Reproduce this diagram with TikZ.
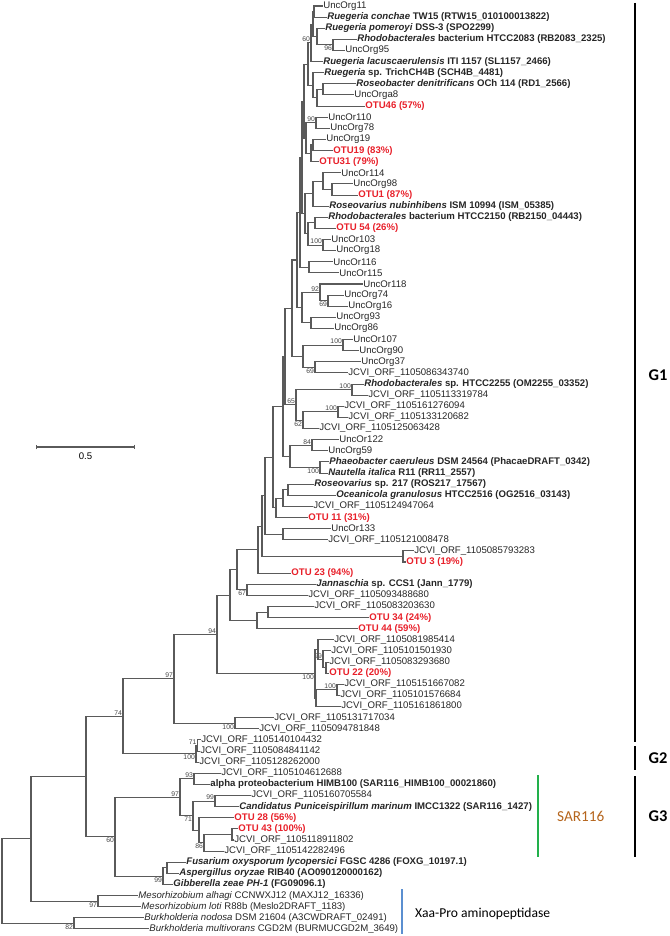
\documentclass[tikz,border=0pt]{standalone}
\usepackage{fontspec}
\setmainfont{Liberation Sans}
\newfontfamily\grpfont{Carlito}
\usetikzlibrary{arrows.meta,calc}
\definecolor{TreeGray}{HTML}{5A5A5A}
\definecolor{OtuRed}{HTML}{E8202A}
\definecolor{BootGray}{HTML}{444444}
\definecolor{SarGreen}{HTML}{22B04B}
\definecolor{SarBrown}{HTML}{B5651D}
\definecolor{XaaBlue}{HTML}{5B8FD0}
% leaf i sits at y = 6 + (i-1)*11.12 px
\newcommand{\taxon}[4][]{\node[leaf,#1] (L#2) at (#3,{6+(#2-1)*11.12}) {#4};}
% internal node: [bootstrap]{name}{x}{first child}{last child}
\newcommand{\clade}[5][]{%
  \path ($(#4)!.5!(#5)$) coordinate (mid);
  \coordinate[#1] (#2) at (#3,0 |- mid);
  \draw[branch] (#2) |- (#4);
  \draw[branch] (#2) |- (#5);
}

\begin{document}
\begin{tikzpicture}[
  x=0.03cm, y=-0.03cm,
  leaf/.style={anchor=west, inner sep=1pt, text=black!85, font=\fontsize{8.2}{9}\selectfont},
  named/.style={font=\fontsize{8.2}{9}\selectfont\bfseries},
  otu/.style={named, text=OtuRed},
  branch/.style={draw=TreeGray, line width=0.9pt, line cap=rect},
  boot/.style={font=\fontsize{5.8}{6.5}\selectfont, text=BootGray, inner sep=0.8pt},
  bsa/.style={label={[boot]above left:#1}},
  bsb/.style={label={[boot]below left:#1}},
  grpbar/.style={line width=1.6pt},
  grplabel/.style={font=\grpfont\fontsize{14}{16}\selectfont\bfseries}
]
\useasboundingbox (0,0) rectangle (669,936);

% leaves, top to bottom
\taxon{1}{322}{UncOrg11}
\taxon[named]{2}{326}{\textit{Ruegeria conchae} TW15 (RTW15\_010100013822)}
\taxon[named]{3}{324}{\textit{Ruegeria pomeroyi} DSS-3 (SPO2299)}
\taxon[named]{4}{356}{\textit{Rhodobacterales} bacterium HTCC2083 (RB2083\_2325)}
\taxon{5}{344}{UncOrg95}
\taxon[named]{6}{322}{\textit{Ruegeria lacuscaerulensis} ITI 1157 (SL1157\_2466)}
\taxon[named]{7}{323}{\textit{Ruegeria} sp. TrichCH4B (SCH4B\_4481)}
\taxon[named]{8}{355}{\textit{Roseobacter denitrificans} OCh 114 (RD1\_2566)}
\taxon{9}{353}{UncOrga8}
\taxon[otu]{10}{364}{OTU46 (57\%)}
\taxon{11}{327}{UncOr110}
\taxon{12}{329}{UncOrg78}
\taxon{13}{325}{UncOrg19}
\taxon[otu]{14}{332}{OTU19 (83\%)}
\taxon[otu]{15}{318}{OTU31 (79\%)}
\taxon{16}{340}{UncOr114}
\taxon{17}{352}{UncOrg98}
\taxon[otu]{18}{357}{OTU1 (87\%)}
\taxon[named]{19}{328}{\textit{Roseovarius nubinhibens} ISM 10994 (ISM\_05385)}
\taxon[named]{20}{327}{\textit{Rhodobacterales} bacterium HTCC2150 (RB2150\_04443)}
\taxon[otu]{21}{335}{OTU 54 (26\%)}
\taxon{22}{330}{UncOr103}
\taxon{23}{335}{UncOrg18}
\taxon{24}{332}{UncOr116}
\taxon{25}{338}{UncOr115}
\taxon{26}{362}{UncOr118}
\taxon{27}{343}{UncOrg74}
\taxon{28}{347}{UncOrg16}
\taxon{29}{335}{UncOrg93}
\taxon{30}{333}{UncOrg86}
\taxon{31}{352}{UncOr107}
\taxon{32}{358}{UncOrg90}
\taxon{33}{360}{UncOrg37}
\taxon{34}{347}{JCVI\_ORF\_1105086343740}
\taxon[named]{35}{363}{\textit{Rhodobacterales} sp. HTCC2255 (OM2255\_03352)}
\taxon{36}{367}{JCVI\_ORF\_1105113319784}
\taxon{37}{343}{JCVI\_ORF\_1105161276094}
\taxon{38}{347}{JCVI\_ORF\_1105133120682}
\taxon{39}{318}{JCVI\_ORF\_1105125063428}
\taxon{40}{338}{UncOr122}
\taxon{41}{327}{UncOrg59}
\taxon[named]{42}{328}{\textit{Phaeobacter caeruleus} DSM 24564 (PhacaeDRAFT\_0342)}
\taxon[named]{43}{327}{\textit{Nautella italica} R11 (RR11\_2557)}
\taxon[named]{44}{313}{\textit{Roseovarius} sp. 217 (ROS217\_17567)}
\taxon[named]{45}{335}{\textit{Oceanicola granulosus} HTCC2516 (OG2516\_03143)}
\taxon{46}{312}{JCVI\_ORF\_1105124947064}
\taxon[otu]{47}{307}{OTU 11 (31\%)}
\taxon{48}{330}{UncOr133}
\taxon{49}{327}{JCVI\_ORF\_1105121008478}
\taxon{50}{413}{JCVI\_ORF\_1105085793283}
\taxon[otu]{51}{405}{OTU 3 (19\%)}
\taxon[otu]{52}{290}{OTU 23 (94\%)}
\taxon[named]{53}{315}{\textit{Jannaschia} sp. CCS1 (Jann\_1779)}
\taxon{54}{307}{JCVI\_ORF\_1105093488680}
\taxon{55}{313}{JCVI\_ORF\_1105083203630}
\taxon[otu]{56}{368}{OTU 34 (24\%)}
\taxon[otu]{57}{357}{OTU 44 (59\%)}
\taxon{58}{333}{JCVI\_ORF\_1105081985414}
\taxon{59}{330}{JCVI\_ORF\_1105101501930}
\taxon{60}{328}{JCVI\_ORF\_1105083293680}
\taxon[otu]{61}{328}{OTU 22 (20\%)}
\taxon{62}{343}{JCVI\_ORF\_1105151667082}
\taxon{63}{339}{JCVI\_ORF\_1105101576684}
\taxon{64}{340}{JCVI\_ORF\_1105161861800}
\taxon{65}{273}{JCVI\_ORF\_1105131717034}
\taxon{66}{258}{JCVI\_ORF\_1105094781848}
\taxon{67}{200}{JCVI\_ORF\_1105140104432}
\taxon{68}{199}{JCVI\_ORF\_1105084841142}
\taxon{69}{198}{JCVI\_ORF\_1105128262000}
\taxon{70}{220}{JCVI\_ORF\_1105104612688}
\taxon[named]{71}{209}{alpha proteobacterium HIMB100 (SAR116\_HIMB100\_00021860)}
\taxon{72}{250}{JCVI\_ORF\_1105160705584}
\taxon[named]{73}{238}{\textit{Candidatus Puniceispirillum marinum} IMCC1322 (SAR116\_1427)}
\taxon[otu]{74}{233}{OTU 28 (56\%)}
\taxon[otu]{75}{237}{OTU 43 (100\%)}
\taxon{76}{233}{JCVI\_ORF\_1105118911802}
\taxon{77}{223}{JCVI\_ORF\_1105142282496}
\taxon[named]{78}{185}{\textit{Fusarium oxysporum lycopersici} FGSC 4286 (FOXG\_10197.1)}
\taxon[named]{79}{178}{\textit{Aspergillus oryzae} RIB40 (AO090120000162)}
\taxon[named]{80}{172}{\textit{Gibberella zeae PH-1} (FG09096.1)}
\taxon{81}{137}{\textit{Mesorhizobium alhagi} CCNWXJ12 (MAXJ12\_16336)}
\taxon{82}{140}{\textit{Mesorhizobium loti} R88b (Meslo2DRAFT\_1183)}
\taxon{83}{143}{\textit{Burkholderia nodosa} DSM 21604 (A3CWDRAFT\_02491)}
\taxon{84}{148}{\textit{Burkholderia multivorans} CGD2M (BURMUCGD2M\_3649)}

% Ruegeria group
\clade{nc}{314}{L1}{L2}
\clade[bsb=96]{ne}{333}{L4}{L5}
\clade{nd}{317}{L3}{ne}
\clade{nb}{313}{nc}{nd}
\clade[bsa=60]{n60a}{311}{nb}{L6}
\clade{nh}{323}{L8}{L9}
\clade{ng}{317}{nh}{L10}
\clade{nf}{313}{L7}{ng}
\clade{ni}{308}{n60a}{nf}
% UncOr110 .. OTU31
\clade[bsa=90]{n90}{316}{L11}{L12}
\clade{nk}{313}{L13}{L14}
\clade{nj}{311}{nk}{L15}
\clade{nl}{306}{n90}{nj}
\clade{nm0}{304}{ni}{nl}
% UncOr114 .. UncOrg18
\clade{nh2}{332}{L17}{L18}
\clade{ni2}{323}{L16}{nh2}
\clade{nj2}{313}{ni2}{L19}
\clade{nf2}{315}{L20}{L21}
\clade[bsa=100]{n100a}{323}{L22}{L23}
\clade{ng2}{308}{nf2}{n100a}
\clade{nk2}{305}{nj2}{ng2}
\clade{nup4}{302}{nm0}{nk2}
\clade{nm}{309}{L24}{L25}
\clade{nup3}{300}{nup4}{nm}
\clade[bsb=69]{n69a}{328}{L27}{L28}
\clade[bsa=92]{n92}{320}{L26}{n69a}
\clade{nn}{311}{L29}{L30}
\clade{no}{302}{n92}{nn}
\clade{nup2}{297}{nup3}{no}
\clade[bsa=100]{n100b}{343}{L31}{L32}
\clade[bsb=69]{n69b}{315}{L33}{L34}
\clade{nq}{303}{n100b}{n69b}
\clade{nup1}{292}{nup2}{nq}
% HTCC2255 .. Nautella
\clade[bsa=100]{n100f}{352}{L35}{L36}
\clade[bsa=100]{n100g}{338}{L37}{L38}
\clade[bsb=62]{n62}{303}{n100g}{L39}
\clade[bsa=65]{n65}{296}{n100f}{n62}
\clade{nA5}{285}{nup1}{n65}
\clade[bsa=84]{n84}{312}{L40}{L41}
\clade[bsb=100]{n100c}{320}{L42}{L43}
\clade{nph}{290}{n84}{n100c}
\clade{nA4}{283}{nA5}{nph}
% Roseovarius sp. .. OTU 44
\clade{nO1}{288}{L44}{L45}
\clade{nP}{283}{nO1}{L46}
\clade{nR}{276}{nP}{L47}
\clade{nA3}{273}{nA4}{nR}
\clade{nu}{283}{L48}{L49}
\clade{nA2}{265}{nA3}{nu}
\clade{n3}{403}{L50}{L51}
\clade{nA1}{262}{nA2}{n3}
\clade{nW}{258}{nA1}{L52}
\clade[bsb=67]{n67}{247}{L53}{L54}
\clade{nU}{237}{nW}{n67}
\clade{n34}{268}{L55}{L56}
\clade{nX}{257}{n34}{L57}
\clade{nY}{230}{nU}{nX}
% OTU 22 group
\clade{na}{326}{L60}{L61}
\clade[bsa=99]{n99}{323}{L59}{na}
\clade{nb2}{318}{L58}{n99}
\clade[bsa=100]{n100e}{337}{L62}{L63}
\clade{nc2}{316}{n100e}{L64}
\clade[bsb=100]{nV}{315}{nb2}{nc2}
\clade[bsa=94]{n94}{217}{nY}{nV}
\clade[bsb=100]{n100d}{235}{L65}{L66}
\clade[bsa=97]{n97}{174}{n94}{n100d}
% G2
\clade[bsa=71]{n71a}{197.5}{L67}{L68}
\clade[bsb=100]{nG2}{196}{n71a}{L69}
\clade[bsa=74]{n74}{123}{n97}{nG2}
% G3 / SAR116
\clade[bsa=93]{n93}{194}{L70}{L71}
\clade[bsa=99]{n99b}{215}{L72}{L73}
\clade{nZ}{232}{L75}{L76}
\clade[bsb=86]{n86b}{204}{nZ}{L77}
\clade{nW2}{199}{L74}{n86b}
\clade[bsb=71]{nS}{193}{n99b}{nW2}
\clade[bsa=97]{n97b}{180}{n93}{nS}
% fungi and outgroups
\clade{nFA}{167}{L78}{L79}
\clade[bsb=99]{n99f}{163}{nFA}{L80}
\clade[bsb=60]{n60}{115}{n97b}{n99f}
\clade{n86}{86}{n74}{n60}
\clade[bsb=97]{nMeso}{98}{L81}{L82}
\clade{n31}{31}{n86}{nMeso}
\clade[bsb=82]{nBurk}{74}{L83}{L84}
\clade{root}{2}{n31}{nBurk}

% scale bar
\coordinate (sbl) at (36,447);
\coordinate (sbr) at (135,447);
\draw[branch, line cap=butt, {Bar[width=4pt]}-{Bar[width=4pt]}] (sbl) -- (sbr)
  node[midway, below=1pt, font=\fontsize{8.2}{9}\selectfont] (sbtext) {0.5};

% group brackets
\coordinate (g1top) at (635,3);
\coordinate (g1bot) at (635,742);
\draw[grpbar] (g1top) -- (g1bot);
\node[grplabel] (g1) at (658,375) {G1};
\coordinate (g2top) at (635,746);
\coordinate (g2bot) at (635,770);
\draw[grpbar] (g2top) -- (g2bot);
\node[grplabel] (g2) at (658,758) {G2};
\coordinate (g3top) at (635,776);
\coordinate (g3bot) at (635,857);
\draw[grpbar] (g3top) -- (g3bot);
\node[grplabel] (g3) at (658,816) {G3};
\coordinate (sartop) at (538,775);
\coordinate (sarbot) at (538,857);
\draw[grpbar, draw=SarGreen] (sartop) -- (sarbot);
\node[font=\grpfont\fontsize{13}{15}\selectfont, text=SarBrown, anchor=west] (sar) at (553,816) {SAR116};
\coordinate (xaatop) at (402,889);
\coordinate (xaabot) at (402,934);
\draw[grpbar, line width=1.2pt, draw=XaaBlue] (xaatop) -- (xaabot);
\node[font=\grpfont\fontsize{11.6}{13}\selectfont, anchor=west] (xaa) at (411,914) {Xaa-Pro aminopeptidase};
\end{tikzpicture}
\end{document}
